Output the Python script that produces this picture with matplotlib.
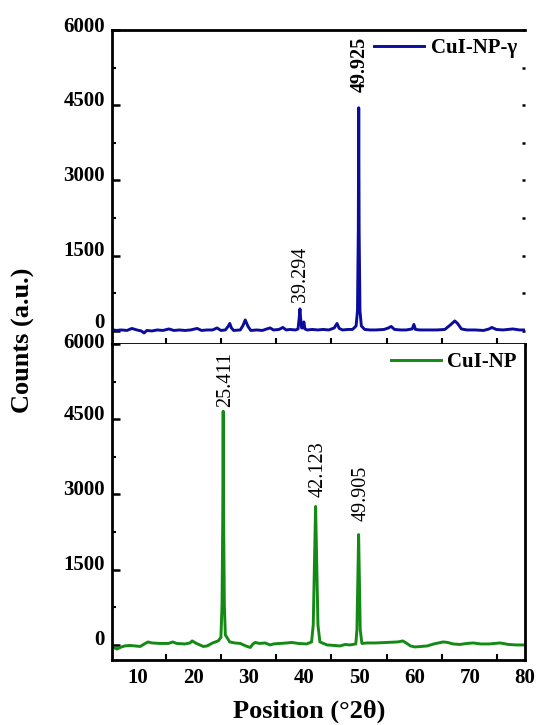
import matplotlib
matplotlib.use("Agg")
import matplotlib.pyplot as plt
from matplotlib.ticker import MultipleLocator, FixedLocator, NullFormatter
import matplotlib.transforms as mtransforms

# ---------------- data ----------------
blue_x = [5.3, 6.0, 7.0, 8.0, 8.9, 9.8, 10.6, 11.1, 11.6, 12.5, 13.5, 14.5, 15.6, 16.5,
          17.5, 18.5, 19.5, 20.7, 21.5, 22.5, 23.5, 24.3, 25.0, 25.8, 26.3, 26.6, 26.9,
          27.3, 28.5, 29.0, 29.4, 29.9, 30.4, 31.5, 32.5, 33.3, 33.9, 34.5, 35.5, 36.2,
          36.8, 37.5, 38.5, 38.95, 39.15, 39.294, 39.42, 39.6, 39.8, 40.0, 40.2, 40.6,
          41.5, 42.5, 43.5, 44.5, 45.5, 46.0, 46.4, 47.0, 48.0, 48.8, 49.45, 49.7, 49.85,
          49.925, 50.0, 50.15, 50.4, 51.0, 52.0, 53.0, 54.5, 55.3, 55.8, 56.4, 57.5, 58.5,
          59.6, 59.9, 60.2, 61.0, 62.5, 64.0, 65.5, 66.5, 67.3, 67.8, 68.5, 69.5, 71.0,
          72.5, 73.5, 74.0, 74.8, 76.0, 77.8, 79.0, 80.0]
blue_y = [30, 10, 20, 10, 50, 20, 0, -40, 10, 0, 20, 10, 40, 10,
          20, 10, 20, 50, 10, 20, 20, 60, 10, 20, 90, 150, 60,
          10, 20, 110, 220, 90, 10, 20, 10, 40, 60, 20, 30, 70,
          20, 30, 20, 40, 250, 440, 250, 60, 60, 180, 40, 20,
          30, 20, 30, 20, 60, 150, 50, 20, 30, 30, 100, 400, 2000,
          4450, 2000, 400, 100, 30, 20, 20, 30, 60, 90, 30, 20, 20,
          40, 130, 30, 20, 20, 20, 30, 120, 200, 150, 40, 20, 20,
          10, 40, 70, 30, 20, 40, 20, 20]

green_x = [5.3, 5.8, 6.2, 7.0, 7.6, 8.5, 9.5, 10.4, 11.0, 11.8, 12.5, 14.0, 15.5, 16.3,
           17.0, 18.5, 19.4, 19.8, 20.4, 21.0, 21.8, 22.5, 23.5, 24.5, 25.0, 25.2, 25.33,
           25.411, 25.49, 25.62, 25.8, 26.6, 27.5, 28.5, 29.5, 30.3, 30.8, 31.2, 32.0,
           33.0, 33.9, 34.5, 35.7, 37.0, 37.8, 39.0, 40.5, 41.4, 41.7, 41.95, 42.123,
           42.3, 42.55, 42.9, 44.2, 45.5, 46.5, 47.5, 48.3, 49.4, 49.6, 49.78, 49.905,
           50.03, 50.2, 50.5, 51.4, 53.0, 55.0, 57.0, 57.9, 58.5, 59.3, 60.1, 61.2, 62.3,
           63.5, 65.2, 66.0, 67.0, 68.2, 69.5, 70.6, 72.0, 73.5, 75.5, 77.0, 78.5, 80.0]
green_y = [-40, -60, -80, -40, -20, -10, -20, -30, 10, 60, 40, 30, 30, 60,
           30, 20, 40, 80, 40, 10, -30, -20, 40, 80, 150, 800, 2500,
           4660, 2500, 800, 200, 60, 40, 30, -20, -50, 20, 50, 30,
           40, 0, 20, 30, 40, 50, 30, 20, 60, 400, 1800, 2760,
           1800, 400, 60, 0, -10, -20, 10, 0, 20, 300, 1400, 2200,
           1400, 300, 30, 40, 40, 50, 60, 80, 40, -20, -40, -30, -20,
           20, 60, 50, 20, 10, 30, 40, 20, 20, 40, 10, 0, 0]

blue_label = "CuI-NP-\u03b3"
green_label = "CuI-NP"
blue_peaks = [(39.294, 580, "39.294", "normal"), (49.925, 4760, "49.925", "bold")]
green_peaks = [(25.411, 4740, "25.411", "normal"), (42.123, 2950, "42.123", "normal"),
               (49.905, 2470, "49.905", "normal")]
y_ticks = [0, 1500, 3000, 4500, 6000]
x_ticks = [10, 20, 30, 40, 50, 60, 70, 80]
x_minor = [15, 25, 35, 45, 55, 65, 75]

# ---------------- style ----------------
plt.rcParams['font.family'] = ['Liberation Serif', 'DejaVu Serif']
plt.rcParams['font.weight'] = 'bold'
blue = '#0c0c9c'
green = '#138a13'
W, H = 536, 725
fig = plt.figure(figsize=(W / 100, H / 100), dpi=100)

left = 112 / W
right = 525 / W
ax1 = fig.add_axes([left, 1 - 344 / H, right - left, (344 - 30) / H])
ax2 = fig.add_axes([left, 1 - 660 / H, right - left, (660 - 344) / H])

ax1.plot(blue_x, blue_y, color=blue, lw=2.1, label=blue_label)
ax2.plot(green_x, green_y, color=green, lw=2.1, label=green_label)

for ax, ylim in ((ax1, (-260, 6000)), (ax2, (-300, 6000))):
    ax.set_xlim(5.3, 80)
    ax.set_ylim(*ylim)
    ax.set_yticks(y_ticks)
    ax.yaxis.set_minor_locator(MultipleLocator(750))
    ax.set_xticks(x_ticks)
    ax.xaxis.set_minor_locator(FixedLocator(x_minor))
    for s in ax.spines.values():
        s.set_linewidth(2.0)
    ax.tick_params(axis='x', which='major', length=0, labelsize=15, pad=6)
    ax.tick_params(axis='x', which='minor', length=4, width=1.5, direction='in')
    ax.tick_params(axis='y', which='major', length=6, width=1.8, direction='in',
                   labelsize=15, pad=5)
    ax.tick_params(axis='y', which='minor', length=3, width=1.5, direction='in')
    for lab in ax.get_xticklabels():
        lab.set_fontweight('bold')

def shift_labels(ax, offsets):
    for lab, dy in zip(ax.get_yticklabels(), offsets):
        off = mtransforms.ScaledTranslation(0, dy / 100, fig.dpi_scale_trans)
        lab.set_transform(lab.get_transform() + off)
        lab.set_fontweight('bold')

shift_labels(ax1, [10, 7, 7, 7, 6])
shift_labels(ax2, [7, 7, 7, 7, 4])

ax1.tick_params(axis='x', labelbottom=False)
ax1.spines['right'].set_visible(False)
ax2.spines['top'].set_visible(False)

# small tick dots along the (hidden) right edge of the upper panel
sec = ax1.secondary_yaxis('right')
sec.spines['right'].set_visible(False)
sec.yaxis.set_major_locator(MultipleLocator(750))
sec.yaxis.set_major_formatter(NullFormatter())
sec.tick_params(axis='y', which='major', length=2.5, width=1.8, direction='in')
sec.tick_params(axis='y', which='minor', length=0)

for x, y, t, w in blue_peaks:
    ax1.text(x + 0.1, y, t, rotation=90, ha='center', va='bottom', fontsize=14.5,
             fontweight=w)
for x, y, t, w in green_peaks:
    ax2.text(x + 0.45, y, t, rotation=90, ha='center', va='bottom', fontsize=14.5,
             fontweight=w)

for ax in (ax1, ax2):
    ax.legend(loc='upper right', frameon=False, handlelength=2.4,
              handletextpad=0.3, borderaxespad=0.2, borderpad=0.2,
              prop={'weight': 'bold', 'size': 15})

fig.text(23 / W, 1 - 340 / H, "Counts (a.u.)", rotation=90, ha='center', va='center',
         fontsize=19, fontweight='bold')
fig.text(309 / W, 1 - 711 / H, "Position (\u00b02\u03b8)", ha='center', va='center',
         fontsize=19, fontweight='bold')

fig.savefig("out.png", dpi=100)
